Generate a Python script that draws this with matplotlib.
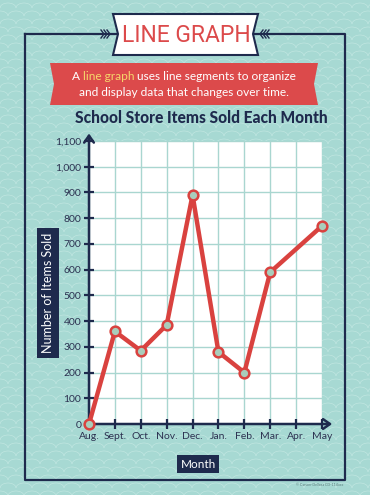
import matplotlib.pyplot as plt
from matplotlib.patches import Rectangle, Polygon
from matplotlib.collections import LineCollection
import numpy as np

# chart data
months = ['Aug.', 'Sept.', 'Oct.', 'Nov.', 'Dec.', 'Jan.', 'Feb.', 'Mar.', 'Apr.', 'May']
items_sold = [0, 360, 285, 385, 890, 280, 200, 590, None, 770]
y_ticks = list(range(0, 1200, 100))
y_tick_labels = ['{:,}'.format(v) for v in y_ticks]

TEAL = '#a7d9d3'
NAVY = '#1e2a4d'
RED = '#dc4a4b'
LINE_RED = '#d9423f'
plt.rcParams['font.family'] = ['Lato', 'DejaVu Sans']

fig = plt.figure(figsize=(3.7, 4.95), dpi=100)

# full-figure layer in pixel coords for the poster decoration
bg = fig.add_axes([0, 0, 1, 1])
bg.set_xlim(0, 370)
bg.set_ylim(495, 0)
bg.axis('off')
bg.add_patch(Rectangle((0, 0), 370, 495, fc=TEAL, ec='none', zorder=0))

# wavy scale pattern
segs = []
theta = np.linspace(0, np.pi, 16)
for r, row in enumerate(range(0, 510, 8)):
    off = 8 if r % 2 else 0
    for cx in range(-16, 390, 16):
        segs.append(np.column_stack([cx + off + 8 * np.cos(theta), row - 5 * np.sin(theta)]))
bg.add_collection(LineCollection(segs, colors='#c3e7e2', linewidths=0.45, zorder=1))

# navy frame
bg.plot([25, 25, 345, 345, 25], [34, 480, 480, 34, 34], color=NAVY, lw=1.6, zorder=2)

# feathers either side of the banner
for k in range(3):
    x = 104 + k * 3
    bg.plot([x - 3, x, x - 3], [30, 34, 38], color=NAVY, lw=1.0, zorder=3)
    x = 266 - k * 3
    bg.plot([x + 3, x, x + 3], [30, 34, 38], color=NAVY, lw=1.0, zorder=3)

# title banner
banner = Polygon([(113, 14), (258, 14), (253, 34), (258, 55), (113, 55), (118, 34)],
                 closed=True, fc='white', ec=NAVY, lw=1.5, zorder=4)
bg.add_patch(banner)
bg.text(186, 35, 'LINE GRAPH', color=RED, fontsize=16.5, ha='center', va='center',
        family=['Roboto', 'DejaVu Sans'], zorder=5)

# red ribbon with description
ribbon = Polygon([(50, 63), (318, 63), (314, 84), (318, 105), (50, 105), (54, 84)],
                 closed=True, fc=RED, ec='none', zorder=4)
bg.add_patch(ribbon)

# first line built from three pieces so "line graph" can be yellow
line1 = ['A ', 'line graph', ' uses line segments to organize']
cols1 = ['white', '#f6d66b', 'white']
fs = 8.6
r = fig.canvas.get_renderer()
widths = []
for s in line1:
    tt = bg.text(0, 0, s, fontsize=fs)
    widths.append(tt.get_window_extent(r).width)
    tt.remove()
x0 = 184 - sum(widths) / 2
for s, c, w in zip(line1, cols1, widths):
    bg.text(x0, 77, s, color=c, fontsize=fs, ha='left', va='center', zorder=5)
    x0 += w
bg.text(184, 93, 'and display data that changes over time.', color='white',
        fontsize=fs, ha='center', va='center', zorder=5)

# chart title
bg.text(201, 118, 'School Store Items Sold Each Month', color=NAVY, fontsize=11.2,
        fontweight='black', ha='center', va='center', zorder=5)

# axis label boxes
bg.text(48, 293, 'Number of Items Sold', color='white', fontsize=9, rotation=90,
        ha='center', va='center', zorder=5,
        bbox=dict(boxstyle='square,pad=0.4', fc=NAVY, ec='none'))
bg.text(198, 464, 'Month', color='white', fontsize=8.5, ha='center', va='center', zorder=5,
        bbox=dict(boxstyle='square,pad=0.3', fc=NAVY, ec='none'))
bg.text(343, 485, '\u00a9 Carson-Dellosa CD-114xxx', color='#5c7f7e', fontsize=2.6,
        ha='right', va='center', zorder=5)

# the line chart itself
ax = fig.add_axes([89 / 370, (495 - 424) / 495, (322 - 89) / 370, (424 - 141) / 495])
ax.set_facecolor('white')
ax.set_xlim(0, len(months) - 1)
ax.set_ylim(0, 1100)
ax.set_xticks(range(len(months)))
ax.set_xticklabels(months)
ax.set_yticks(y_ticks)
ax.set_yticklabels(y_tick_labels)
ax.grid(True, color='#a9d6d0', lw=1.0)
ax.set_axisbelow(True)
for sp in ax.spines.values():
    sp.set_visible(False)
ax.tick_params(direction='inout', length=7, width=1.6, color=NAVY,
               labelcolor='#2b3150', labelsize=7.5, pad=2)

ax.annotate('', xy=(len(months) - 0.5, 0), xytext=(0, 0), annotation_clip=False,
            arrowprops=dict(arrowstyle='->,head_length=0.5,head_width=0.35', color=NAVY, lw=1.8))
ax.annotate('', xy=(0, 1140), xytext=(0, 0), annotation_clip=False,
            arrowprops=dict(arrowstyle='->,head_length=0.5,head_width=0.35', color=NAVY, lw=1.8))

xs = [i for i, v in enumerate(items_sold) if v is not None]
ys = [v for v in items_sold if v is not None]
ax.plot(xs, ys, color=LINE_RED, lw=3.2, marker='o', markersize=7,
        markerfacecolor='#a9cdbb', markeredgecolor=LINE_RED, markeredgewidth=1.8,
        clip_on=False, zorder=5)

fig.savefig('out.png', dpi=100)
